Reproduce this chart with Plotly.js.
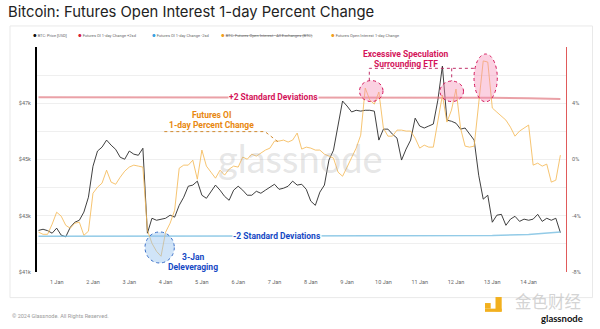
<!DOCTYPE html>
<html>
<head>
<meta charset="utf-8">
<script src="https://cdn.plot.ly/plotly-3.0.1.min.js"></script>
<style>
html,body{margin:0;padding:0;background:#fff;}
#chart{width:600px;height:329px;}
</style>
</head>
<body>
<div id="chart"></div>
<script>
// ---------------- data ----------------
const seriesStart = '2023-12-31T12:00:00Z';
const stepHours = 3;

// BTC: Price [USD], thousands of USD
const btcPrice = [
42.48,42.52,42.47,42.38,42.56,42.31,42.25,42.59,42.77,42.84,
43.13,43.66,44.76,45.30,45.44,45.69,45.51,45.36,45.08,45.01,
45.30,45.19,45.15,45.40,42.38,42.91,42.84,42.88,42.91,43.02,
42.95,43.37,43.66,44.05,44.09,44.23,43.73,43.62,43.87,44.09,
43.91,43.69,43.55,43.91,44.05,43.91,43.73,43.73,43.87,43.80,
43.91,44.02,44.12,43.94,43.98,44.05,44.23,44.09,44.12,43.94,
43.52,43.37,43.84,44.09,44.98,45.33,46.22,47.08,46.90,46.69,
46.75,46.72,46.75,46.75,46.72,45.69,46.08,46.08,45.90,45.76,
44.98,45.37,45.69,46.47,46.19,46.12,46.19,46.26,47.11,48.32,
46.40,46.36,46.29,46.08,46.12,45.90,45.69,44.44,43.59,43.73,
42.77,43.02,43.05,42.66,42.88,42.98,42.80,42.88,42.84,42.88,
43.05,42.80,42.91,42.84,42.91,42.40
];

// Futures Open Interest 1-day Change, %
const oiChange = [
-5.17,-5.32,-5.32,-4.60,-3.75,-4.03,-4.68,-4.89,-4.53,-4.46,
-5.39,-5.10,-2.40,-1.97,-1.68,-0.76,-1.61,-1.76,-1.26,-0.83,
-0.54,-0.40,-0.47,-0.54,-5.03,-5.96,-6.53,-6.88,-5.17,-4.53,
-3.61,-0.62,-0.40,-0.40,-0.05,-1.40,0.67,-0.47,-0.90,-1.33,
-0.76,-1.11,-0.69,-0.47,-0.54,0.17,0.02,0.38,0.24,0.45,
0.67,0.81,1.31,1.31,1.38,1.24,1.38,1.88,0.74,0.88,
0.81,0.67,0.67,0.38,0.24,0.10,-0.90,-1.19,-0.54,0.17,
0.81,1.73,5.08,4.23,3.94,4.80,2.23,1.66,1.66,2.09,
2.09,2.02,2.02,1.52,0.81,1.02,0.88,0.88,2.80,4.58,
2.66,3.51,5.01,2.23,0.95,0.88,0.95,4.23,7.01,6.93,
3.66,3.37,3.09,2.80,2.30,1.66,2.02,2.23,2.45,-0.40,
-0.26,-0.47,-0.33,-1.61,-1.47,0.31
];

// Futures OI 1-day Change +2sd / -2sd, %
const sdDates = ['2023-12-31 12:00','2024-01-02 00:00','2024-01-04 00:00','2024-01-06 00:00',
  '2024-01-08 00:00','2024-01-10 00:00','2024-01-12 00:00','2024-01-13 00:00',
  '2024-01-14 00:00','2024-01-14 21:00'];
const plus2sd  = [4.42,4.42,4.42,4.42,4.42,4.42,4.41,4.39,4.36,4.31];
const minus2sd = [-5.46,-5.46,-5.46,-5.46,-5.46,-5.45,-5.44,-5.41,-5.33,-5.15];

// axis ticks
const dayTicks = ['2024-01-01','2024-01-02','2024-01-03','2024-01-04','2024-01-05','2024-01-06',
  '2024-01-07','2024-01-08','2024-01-09','2024-01-10','2024-01-11','2024-01-12','2024-01-13','2024-01-14'];
const dayLabels = ['1 Jan','2 Jan','3 Jan','4 Jan','5 Jan','6 Jan','7 Jan','8 Jan','9 Jan',
  '10 Jan','11 Jan','12 Jan','13 Jan','14 Jan'];
const priceTicks = [41,43,45,47];
const pctTicks = [-8,-4,0,4];

// ---------------- build ----------------
const t0 = Date.parse(seriesStart);
const times = btcPrice.map((_, i) =>
  new Date(t0 + i*stepHours*3600e3).toISOString().slice(0,16).replace('T',' '));

// plot area in pixels: x 37..566, y 47..271.7
const PL = 37, PR = 566, PT = 47, PB = 271.7;
const P = x => (x - PL) / (PR - PL);
const Q = y => (PB - y) / (PB - PT);

const FONT = 'Roboto, Inter, sans-serif';
const CRIMSON = '#d4145a';
const BLUE = '#1549c4';
const ORANGE = '#e8870e';

const traces = [
  {x: sdDates, y: plus2sd, yaxis:'y2', type:'scatter', mode:'lines',
   line:{color:'rgba(222,110,120,0.65)', width:2}, hoverinfo:'skip'},
  {x: sdDates, y: minus2sd, yaxis:'y2', type:'scatter', mode:'lines',
   line:{color:'rgba(120,190,225,0.8)', width:1.5}, hoverinfo:'skip'},
  {x: times, y: oiChange, yaxis:'y2', type:'scatter', mode:'lines',
   line:{color:'rgba(244,186,88,0.85)', width:1}},
  {x: times, y: btcPrice, yaxis:'y', type:'scatter', mode:'lines',
   line:{color:'#2a2a2a', width:0.9}}
];

function ann(x, y, text, opts) {
  return Object.assign({xref:'paper', yref:'paper', x:P(x), y:Q(y), text:text,
    showarrow:false, xanchor:'center', yanchor:'middle',
    font:{family:FONT, size:8.5, color:'#333'}}, opts || {});
}

const legendItems = [
  {x:30.5, c:'#111', t:'BTC: Price [USD]'},
  {x:76, c:'#d6203a', t:'Futures OI 1-day Change +2sd'},
  {x:149.5, c:'#3aa0e0', t:'Futures OI 1-day Change -2sd'},
  {x:219, c:'#f0a020', t:'<s>BTC: Futures Open Interest - All Exchanges (BTC)</s>'},
  {x:329, c:'#f0a020', t:'Futures Open Interest 1-day Change'}
];

const annotations = [
  ann(300, 158, 'glassnode', {font:{family:'Lato, Inter, sans-serif', size:38, color:'rgba(170,170,170,0.30)'}}),
  ann(273, 97.3, '<b>+2 Standard Deviations</b>', {font:{family:FONT, size:8.5, color:CRIMSON}, bgcolor:'#fff', borderpad:0}),
  ann(277, 235.7, '<b>-2 Standard Deviations</b>', {font:{family:FONT, size:8.5, color:BLUE}, bgcolor:'#fff', borderpad:0}),
  ann(211, 115, '<b>Futures OI</b>', {font:{family:FONT, size:8.5, color:ORANGE}}),
  ann(211, 125, '<b>1-day Percent Change</b>', {font:{family:FONT, size:8.5, color:ORANGE}}),
  ann(193.3, 257, '<b>3-Jan</b>', {font:{family:FONT, size:8.5, color:BLUE}}),
  ann(193.3, 267, '<b>Deleveraging</b>', {font:{family:FONT, size:8.5, color:BLUE}}),
  ann(405.5, 54, '<b>Excessive Speculation</b>', {font:{family:FONT, size:8.5, color:CRIMSON}}),
  ann(405.5, 63.5, '<b>Surrounding ETF</b>', {font:{family:FONT, size:8.5, color:CRIMSON}}),
  ann(10, 315.5, '© 2024 Glassnode. All Rights Reserved.', {xanchor:'left', font:{family:FONT, size:5.5, color:'#9a9a9a'}}),
  ann(548, 300.5, '金色财经', {font:{family:'"Noto Sans CJK SC", sans-serif', size:16.5, color:'rgba(200,200,200,0.8)'}}),
  ann(562, 318.5, '<b>glassnode</b>', {font:{family:'Lato, Inter, sans-serif', size:9.5, color:'#111'}})
];
legendItems.forEach(it => {
  annotations.push(ann(it.x, 35.3,
    '<span style="color:' + it.c + '">●</span> ' + it.t,
    {xanchor:'left', font:{family:FONT, size:4, color:'#666'}}));
});

function pathPx(pts) {
  return pts.map((p, i) => (i ? 'L' : 'M') + P(p[0]).toFixed(5) + ',' + Q(p[1]).toFixed(5)).join(' ');
}

const shapes = [
  // card frame
  {type:'rect', xref:'paper', yref:'paper', x0:P(10), x1:P(592.5), y0:Q(297.3), y1:Q(26),
   line:{color:'#e9e9e9', width:1}, fillcolor:'rgba(0,0,0,0)', layer:'below'},
  // highlighted regions
  {type:'circle', xref:'paper', yref:'paper', x0:P(145), x1:P(174.3), y0:Q(262.7), y1:Q(231.7),
   fillcolor:'rgba(150,195,240,0.45)', line:{color:'#3a70c8', width:1, dash:'dot'}},
  {type:'circle', xref:'paper', yref:'paper', x0:P(359.5), x1:P(383), y0:Q(101.5), y1:Q(80.5),
   fillcolor:'rgba(245,140,180,0.40)', line:{color:'#d4145a', width:1, dash:'dot'}},
  {type:'circle', xref:'paper', yref:'paper', x0:P(440), x1:P(463.5), y0:Q(101.5), y1:Q(81),
   fillcolor:'rgba(245,140,180,0.40)', line:{color:'#d4145a', width:1, dash:'dot'}},
  {type:'circle', xref:'paper', yref:'paper', x0:P(474), x1:P(497.3), y0:Q(101.7), y1:Q(54),
   fillcolor:'rgba(245,140,180,0.40)', line:{color:'#d4145a', width:1, dash:'dot'}},
  // leader lines
  {type:'path', xref:'paper', yref:'paper', path:pathPx([[369.3,80.7],[369.3,68.3],[475,68.3]]),
   line:{color:'#c0306a', width:1, dash:'dot'}},
  {type:'path', xref:'paper', yref:'paper', path:pathPx([[451.7,68.3],[451.7,81]]),
   line:{color:'#c0306a', width:1, dash:'dot'}},
  {type:'path', xref:'paper', yref:'paper', path:pathPx([[164.3,131.5],[265,131.5],[280,143.3]]),
   line:{color:'#d08a30', width:1, dash:'dot'}},
  // watermark logo
  {type:'rect', xref:'paper', yref:'paper', x0:P(485), x1:P(490.7), y0:Q(308.3), y1:Q(302.7),
   fillcolor:'#f2b01e', line:{width:0}},
  {type:'rect', xref:'paper', yref:'paper', x0:P(495.5), x1:P(501.7), y0:Q(311), y1:Q(296.7),
   fillcolor:'#f2b01e', line:{width:0}},
  {type:'rect', xref:'paper', yref:'paper', x0:P(485), x1:P(501.7), y0:Q(311.5), y1:Q(308.3),
   fillcolor:'#f2b01e', line:{width:0}}
];

const layout = {
  width:600, height:329,
  margin:{l:PL, r:600-PR, t:PT, b:329-PB},
  paper_bgcolor:'#fff', plot_bgcolor:'#fff',
  showlegend:false,
  title:{text:'Bitcoin: Futures Open Interest 1-day Percent Change',
    font:{family:'Inter, Roboto, sans-serif', size:14.8, color:'#222'},
    xref:'container', yref:'container', x:8/600, xanchor:'left', y:1-12/329, yanchor:'middle'},
  xaxis:{type:'date', range:['2023-12-31 11:00','2024-01-15 00:43'],
    tickmode:'array', tickvals:dayTicks, ticktext:dayLabels,
    showgrid:false, zeroline:false, showline:false, ticks:'',
    tickfont:{family:FONT, size:5.5, color:'#666'}, ticklabelstandoff:5},
  yaxis:{range:[41,49], tickvals:priceTicks, ticktext:priceTicks.map(v => '$' + v + 'k'),
    showgrid:true, gridcolor:'#efefef', gridwidth:1, zeroline:false,
    minor:{tickvals:[42,44,46,48], showgrid:true, gridcolor:'#efefef', gridwidth:1, ticks:''},
    showline:true, linecolor:'#000', linewidth:2, ticks:'',
    tickfont:{family:FONT, size:5.5, color:'#666'}, ticklabelstandoff:3},
  yaxis2:{range:[-8,8], overlaying:'y', side:'right', tickvals:pctTicks,
    ticktext:pctTicks.map(v => v + '%'), showgrid:false, zeroline:false,
    showline:true, linecolor:'#e05a5a', linewidth:1, ticks:'',
    tickfont:{family:FONT, size:5.5, color:'#666'}, ticklabelstandoff:4},
  annotations:annotations,
  shapes:shapes
};

Plotly.newPlot('chart', traces, layout, {staticPlot:true, displayModeBar:false});
</script>
</body>
</html>
